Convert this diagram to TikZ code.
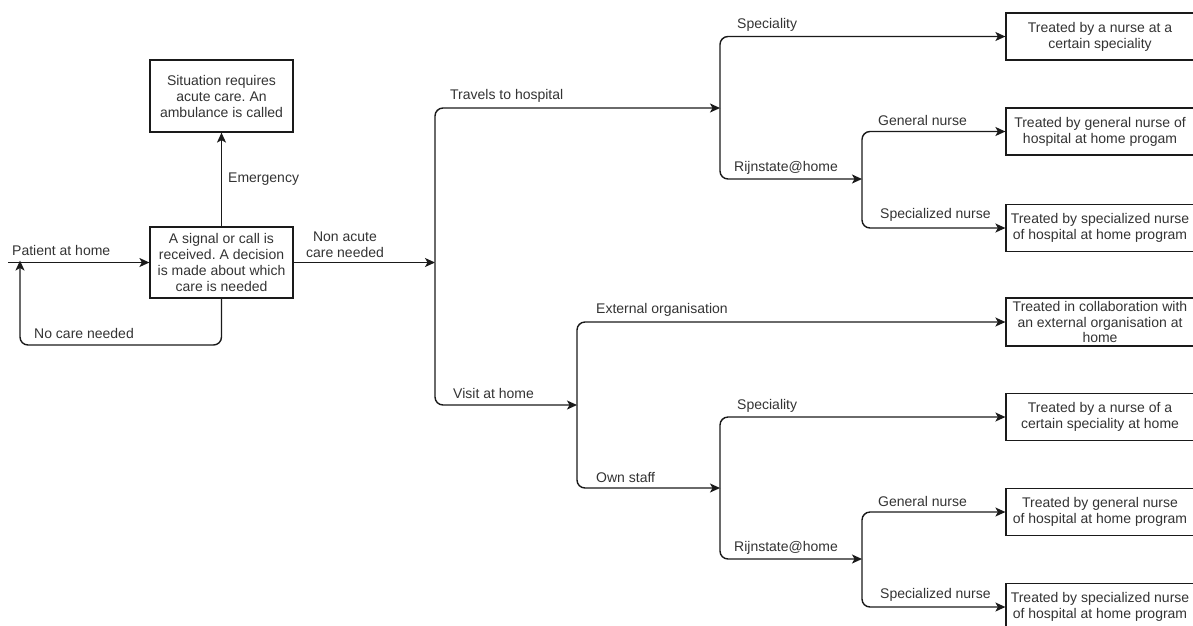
\documentclass[tikz,border=0pt]{standalone}
\usepackage{fontspec}
\setmainfont{Liberation Sans}
\frenchspacing
\usetikzlibrary{arrows.meta}
\definecolor{ink}{HTML}{1A1A1A}
\definecolor{txt}{HTML}{333333}
\tikzset{
  flow/.style={draw=ink, line width=1.4pt, rounded corners=8pt,
    -{Stealth[length=10pt,width=9pt,inset=2.5pt]}},
  stepbox/.style={draw=ink, line width=1.2pt, rectangle, align=center,
    text=txt, inner sep=0pt, font=\fontsize{14}{16}\selectfont},
  outcome/.style={stepbox, minimum width=188pt, minimum height=47pt},
  lbl/.style={anchor=west, inner sep=0pt, text=txt,
    font=\fontsize{14}{16}\selectfont}
}
\begin{document}
\begin{tikzpicture}[x=1pt,y=-1pt]
\useasboundingbox (0,0) rectangle (1193,625);
\clip (0,0) rectangle (1193,625);

% ---- first decision ----
\node[stepbox, minimum width=143pt, minimum height=72pt] (acute) at (221.5,96)
  {Situation requires\\acute care. An\\ambulance is called};
\node[stepbox, minimum width=143pt, minimum height=71pt] (decide) at (221.5,262.5)
  {A signal or call is\\received. A decision\\is made about which\\care is needed};

\coordinate (start) at (8,262.5);
\coordinate (loopin) at (20,262.5);
\coordinate (loopbl) at (20,345);
\coordinate (hub) at (435,262.5);

\draw[flow] (start) -- (decide.west);
\draw[flow] (decide.north) -- (acute.south);
\draw[flow] (decide.south) |- (loopbl) -- ([yshift=2pt]loopin);
\draw[flow] (decide.east) -- (hub);

\node[lbl] (lpat) at (12,250) {Patient at home};
\node[lbl] (lem) at (228,179) {Emergency};
\node[lbl] (lno) at (34,333) {No care needed};
\node[text=txt, inner sep=0pt, align=center, font=\fontsize{14}{16}\selectfont]
  (lnon) at (345,245) {Non acute\\care needed};

% ---- outcome boxes ----
\node[outcome] (o1) at (1100,36.5) {Treated by a nurse at a\\certain speciality};
\node[outcome] (o2) at (1100,131.5) {Treated by general nurse of\\hospital at home progam};
\node[outcome] (o3) at (1100,228) {Treated by specialized nurse\\of hospital at home program};
\node[outcome, minimum height=48pt, font=\fontsize{14}{15.5}\selectfont] (o4) at (1100,322)
  {Treated in collaboration with\\an external organisation at\\home};
\node[outcome] (o5) at (1100,417) {Treated by a nurse of a\\certain speciality at home};
\node[outcome] (o6) at (1100,512) {Treated by general nurse\\of hospital at home program};
\node[outcome] (o7) at (1100,607) {Treated by specialized nurse\\of hospital at home program};

% ---- branching points ----
\coordinate (hosp) at (720,108);
\coordinate (rh1) at (862,179);
\coordinate (home) at (577,405);
\coordinate (own) at (720,488);
\coordinate (rh2) at (862,559);

% travels to hospital
\draw[flow] (hub) |- (hosp);
\draw[flow] (hosp) |- (o1.west);
\draw[flow] (hosp) |- (rh1);
\draw[flow] (rh1) |- (o2.west);
\draw[flow] (rh1) |- (o3.west);

% visit at home
\draw[flow] (hub) |- (home);
\draw[flow] (home) |- (o4.west);
\draw[flow] (home) |- (own);
\draw[flow] (own) |- (o5.west);
\draw[flow] (own) |- (rh2);
\draw[flow] (rh2) |- (o6.west);
\draw[flow] (rh2) |- (o7.west);

% branch labels
\node[lbl] (ltr) at (450,96) {Travels to hospital};
\node[lbl] (lsp1) at (737,25) {Speciality};
\node[lbl] (lrh1) at (734,168) {Rijnstate@home};
\node[lbl] (lgn1) at (878,120) {General nurse};
\node[lbl] (lsn1) at (880,215) {Specialized nurse};
\node[lbl] (lvh) at (453,393) {Visit at home};
\node[lbl] (lext) at (596,310) {External organisation};
\node[lbl] (lown) at (596,477) {Own staff};
\node[lbl] (lsp2) at (737,406) {Speciality};
\node[lbl] (lrh2) at (734,548) {Rijnstate@home};
\node[lbl] (lgn2) at (878,501) {General nurse};
\node[lbl] (lsn2) at (880,595) {Specialized nurse};
\end{tikzpicture}
\end{document}
